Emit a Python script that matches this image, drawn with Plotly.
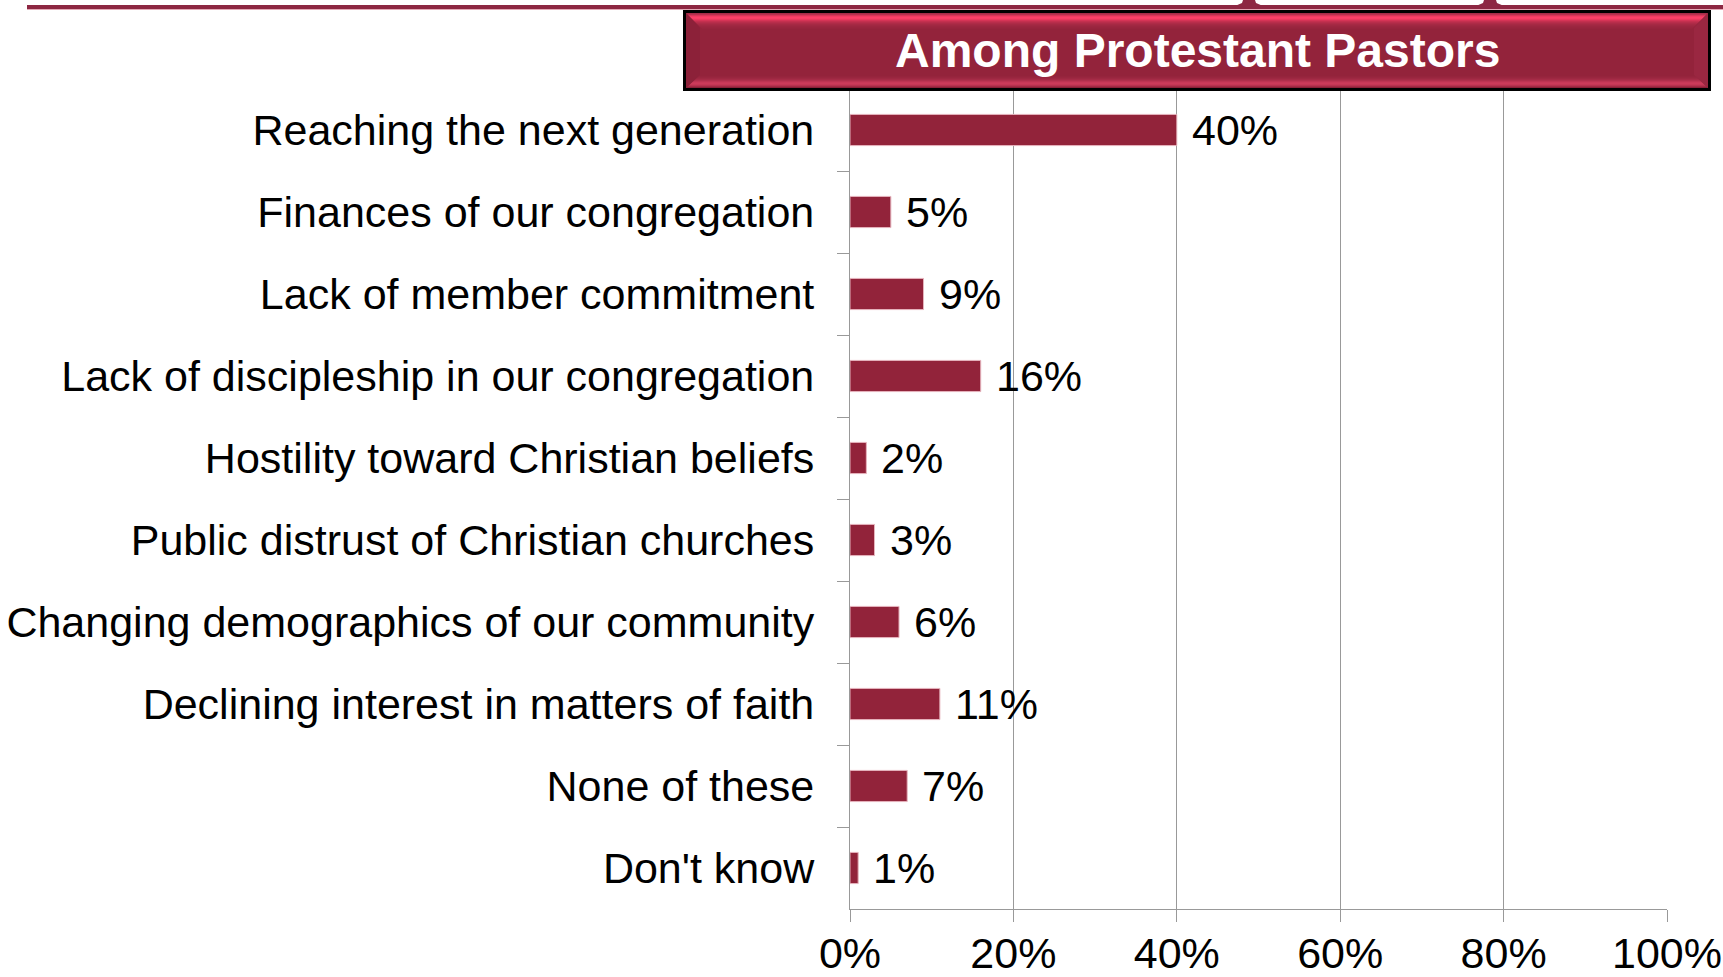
import plotly.graph_objects as go

categories = [
    "Reaching the next generation",
    "Finances of our congregation",
    "Lack of member commitment",
    "Lack of discipleship in our congregation",
    "Hostility toward Christian beliefs",
    "Public distrust of Christian churches",
    "Changing demographics of our community",
    "Declining interest in matters of faith",
    "None of these",
    "Don't know",
]
values = [40, 5, 9, 16, 2, 3, 6, 11, 7, 1]
value_labels = [f"{v}%" for v in values]
x_ticks = [0, 20, 40, 60, 80, 100]
x_tick_labels = [f"{t}%" for t in x_ticks]
title_text = "Among Protestant Pastors"

W, H = 1723, 977
L, R, T, B = 850, 56, 89, 68
PW, PH = W - L - R, H - T - B

def px(x):
    return (x - L) / PW

def py(y):
    return (H - B - y) / PH

FONT = "Liberation Sans, Arial, sans-serif"
BAR = "#92233a"

fig = go.Figure()
fig.add_trace(go.Bar(
    x=values, y=categories, orientation="h",
    marker=dict(color=BAR, line=dict(color="#e6b4bd", width=1)),
    width=0.38, hoverinfo="skip", showlegend=False,
))

annotations = []
for c, v, t in zip(categories, values, value_labels):
    annotations.append(dict(
        x=v, y=c, xref="x", yref="y", text=t, showarrow=False,
        xanchor="left", yanchor="middle", xshift=13,
        font=dict(family=FONT, size=43, color="#000000"),
    ))

shapes = []

def rect(x0, y0, x1, y1, color, layer="above"):
    shapes.append(dict(type="rect", xref="paper", yref="paper",
                       x0=px(x0), x1=px(x1), y0=py(y0), y1=py(y1),
                       fillcolor=color, line=dict(width=0), layer=layer))

def poly(pts, color, layer="above"):
    d = "M " + " L ".join(f"{px(a)},{py(b)}" for a, b in pts) + " Z"
    shapes.append(dict(type="path", xref="paper", yref="paper", path=d,
                       fillcolor=color, line=dict(width=0), layer=layer))

# top decorative line
rect(27, 5, W, 9, "#8d2742")
rect(27, 9, W, 10, "#e3a9b6")
# small tabs above the line
for cx in (1249, 1490):
    poly([(cx-6, 0), (cx+6, 0), (cx+7, 3), (cx+14, 6), (cx-14, 6), (cx-7, 3)], "#8d2742")

# title box
rect(683, 10, 1711, 91, "#000000")
rect(686, 13, 1708, 88, "#93233b")
top_rows = [
    (13, "#a52c48"), (14, "#b8304f"), (15, "#d83659"), (16, "#f03c62"),
    (17, "#fb4068"), (18, "#f83e65"), (19, "#e8395d"), (20, "#d53456"),
    (21, "#c4304f"), (22, "#b82d4b"), (23, "#ae2b47"), (24, "#a62944"),
    (25, "#a02842"), (26, "#9c2640"), (27, "#99253e"), (28, "#96243d"),
]
for i, (yy, col) in enumerate(top_rows):
    poly([(686 + i, yy), (1708 - i, yy), (1708 - i - 1, yy + 1), (686 + i + 1, yy + 1)], col)
bot_rows = [
    (87, "#8a2038"), (86, "#a42a45"), (85, "#b8324f"), (84, "#c63857"),
    (83, "#cc3b5a"), (82, "#c83958"), (81, "#bd3452"), (80, "#b02f4c"),
    (79, "#a52b46"), (78, "#9e2842"), (77, "#99263f"), (76, "#96243d"),
]
for i, (yy, col) in enumerate(bot_rows):
    poly([(686 + i, yy), (1708 - i, yy), (1708 - i - 1, yy + 1), (686 + i + 1, yy + 1)], col)
poly([(686, 13), (700, 28), (700, 75), (686, 88)], "#8c2139")
poly([(1708, 13), (1694, 28), (1694, 75), (1708, 88)], "#9a2741")

annotations.append(dict(
    x=px(1197), y=py(50.5), xref="paper", yref="paper", text=f"<b>{title_text}</b>",
    showarrow=False, xanchor="center", yanchor="middle",
    font=dict(family=FONT, size=48, color="#ffffff"),
))

fig.update_layout(
    width=W, height=H,
    margin=dict(l=L, r=R, t=T, b=B, autoexpand=False),
    paper_bgcolor="#ffffff", plot_bgcolor="#ffffff",
    font=dict(family=FONT, size=43, color="#000000"),
    shapes=shapes,
    annotations=annotations,
    xaxis=dict(
        range=[0, 100], tickvals=x_ticks, ticktext=x_tick_labels,
        showgrid=True, gridcolor="#999999", gridwidth=1.3,
        showline=True, linecolor="#999999", linewidth=1.3,
        ticks="outside", ticklen=12, tickcolor="#999999", tickwidth=1.3,
        tickfont=dict(family=FONT, size=43, color="#000000"),
        zeroline=False, fixedrange=True, ticklabelstandoff=-6,
    ),
    yaxis=dict(
        type="category", categoryorder="array", categoryarray=categories,
        autorange="reversed",
        showgrid=False, showline=True, linecolor="#999999", linewidth=1.3,
        ticks="outside", ticklen=12, tickcolor="#999999", tickwidth=1.3,
        tickson="boundaries",
        tickfont=dict(family=FONT, size=43, color="#000000"),
        ticklabelstandoff=26, fixedrange=True,
    ),
)

fig.write_html(
    "out.html",
    config={"displayModeBar": False},
    post_script="document.body.style.margin='0px';document.body.style.overflow='hidden';",
)
